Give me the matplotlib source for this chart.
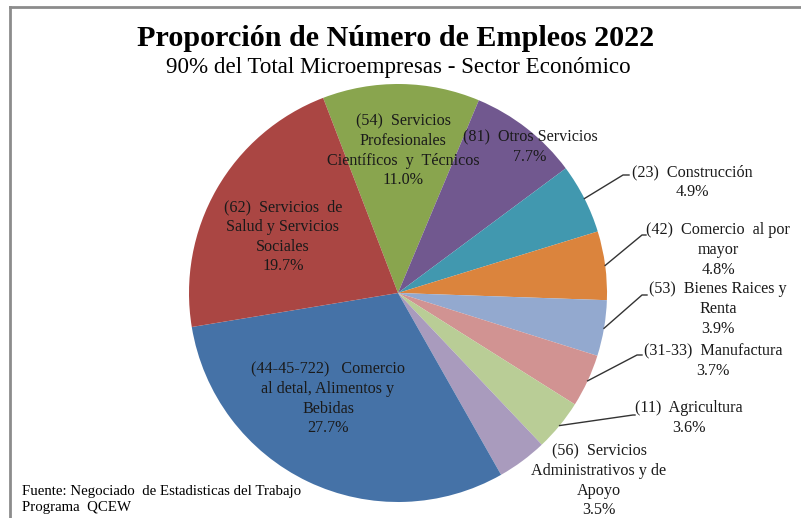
import numpy as np
import matplotlib.pyplot as plt

plt.rcParams['font.family'] = ['Liberation Serif', 'DejaVu Serif']

sectores = [
    "(54)  Servicios\nProfesionales\nCientíficos  y  Técnicos",
    "(81)  Otros Servicios",
    "(23)  Construcción",
    "(42)  Comercio  al por\nmayor",
    "(53)  Bienes Raices y\nRenta",
    "(31-33)  Manufactura",
    "(11)  Agricultura",
    "(56)  Servicios\nAdministrativos y de\nApoyo",
    "(44-45-722)   Comercio\nal detal, Alimentos y\nBebidas",
    "(62)  Servicios  de\nSalud y Servicios\nSociales",
]
porcentajes = [11.0, 7.7, 4.9, 4.8, 3.9, 3.7, 3.6, 3.5, 27.7, 19.7]
colores = ['#89A54E', '#71588F', '#4198AF', '#DB843D', '#93A9CF',
           '#D19392', '#B9CD96', '#A99BBD', '#4572A7', '#AA4643']

W, H = 801, 518
fig = plt.figure(figsize=(W / 100, H / 100), dpi=100)
ax = fig.add_axes([0, 0, 1, 1])

cx, cy, r = 398, H - 293, 209
wedges, _ = ax.pie(porcentajes, colors=colores, startangle=111, counterclock=False,
                   center=(cx, cy), radius=r, wedgeprops=dict(linewidth=0))
ax.set_xlim(0, W)
ax.set_ylim(0, H)
ax.axis('off')

# label centres in pixels (from top), and leader elbows for outside labels
pos_texto = [(403, 151), (530, 147), (692, 182), (718, 250), (718, 309),
             (713, 361), (689, 418), (599, 481), (328, 399), (283, 237)]
codos = [None, None, (623, 175, 629), (642, 235, 646), (642, 295, 647),
         (637, 355, 642), (633, 415, 635), None, None, None]

for w, nombre, p, (tx, ty), codo in zip(wedges, sectores, porcentajes, pos_texto, codos):
    ax.text(tx, H - ty, f"{nombre}\n{p:.1f}%", ha='center', va='center',
            fontsize=11.6, color='#1a1a1a', linespacing=1.3)
    if codo is not None:
        ang = np.deg2rad((w.theta1 + w.theta2) / 2)
        x0, y0 = cx + r * np.cos(ang), cy + r * np.sin(ang)
        ex, ey, tx0 = codo
        ax.plot([x0, ex, tx0], [y0, H - ey, H - ey], color='#333333', lw=1)

fig.text(396 / W, 1 - 38 / H, "Proporción de Número de Empleos 2022",
         ha='center', va='center', fontsize=21.7, fontweight='bold')
fig.text(398 / W, 1 - 68 / H, "90% del Total Microempresas - Sector Económico",
         ha='center', va='center', fontsize=16.6)
fig.text(22 / W, 1 - 499 / H, "Fuente: Negociado  de Estadisticas del Trabajo\nPrograma  QCEW",
         ha='left', va='center', fontsize=10.7, linespacing=1.3)

# frame lines (top and left)
ax.plot([9.5, W], [H - 6.5, H - 6.5], color='#8c8c8c', lw=2, clip_on=False)
ax.plot([9.5, 9.5], [H - 6.5, 0], color='#8c8c8c', lw=2, clip_on=False)

fig.savefig('out.png', dpi=100)
